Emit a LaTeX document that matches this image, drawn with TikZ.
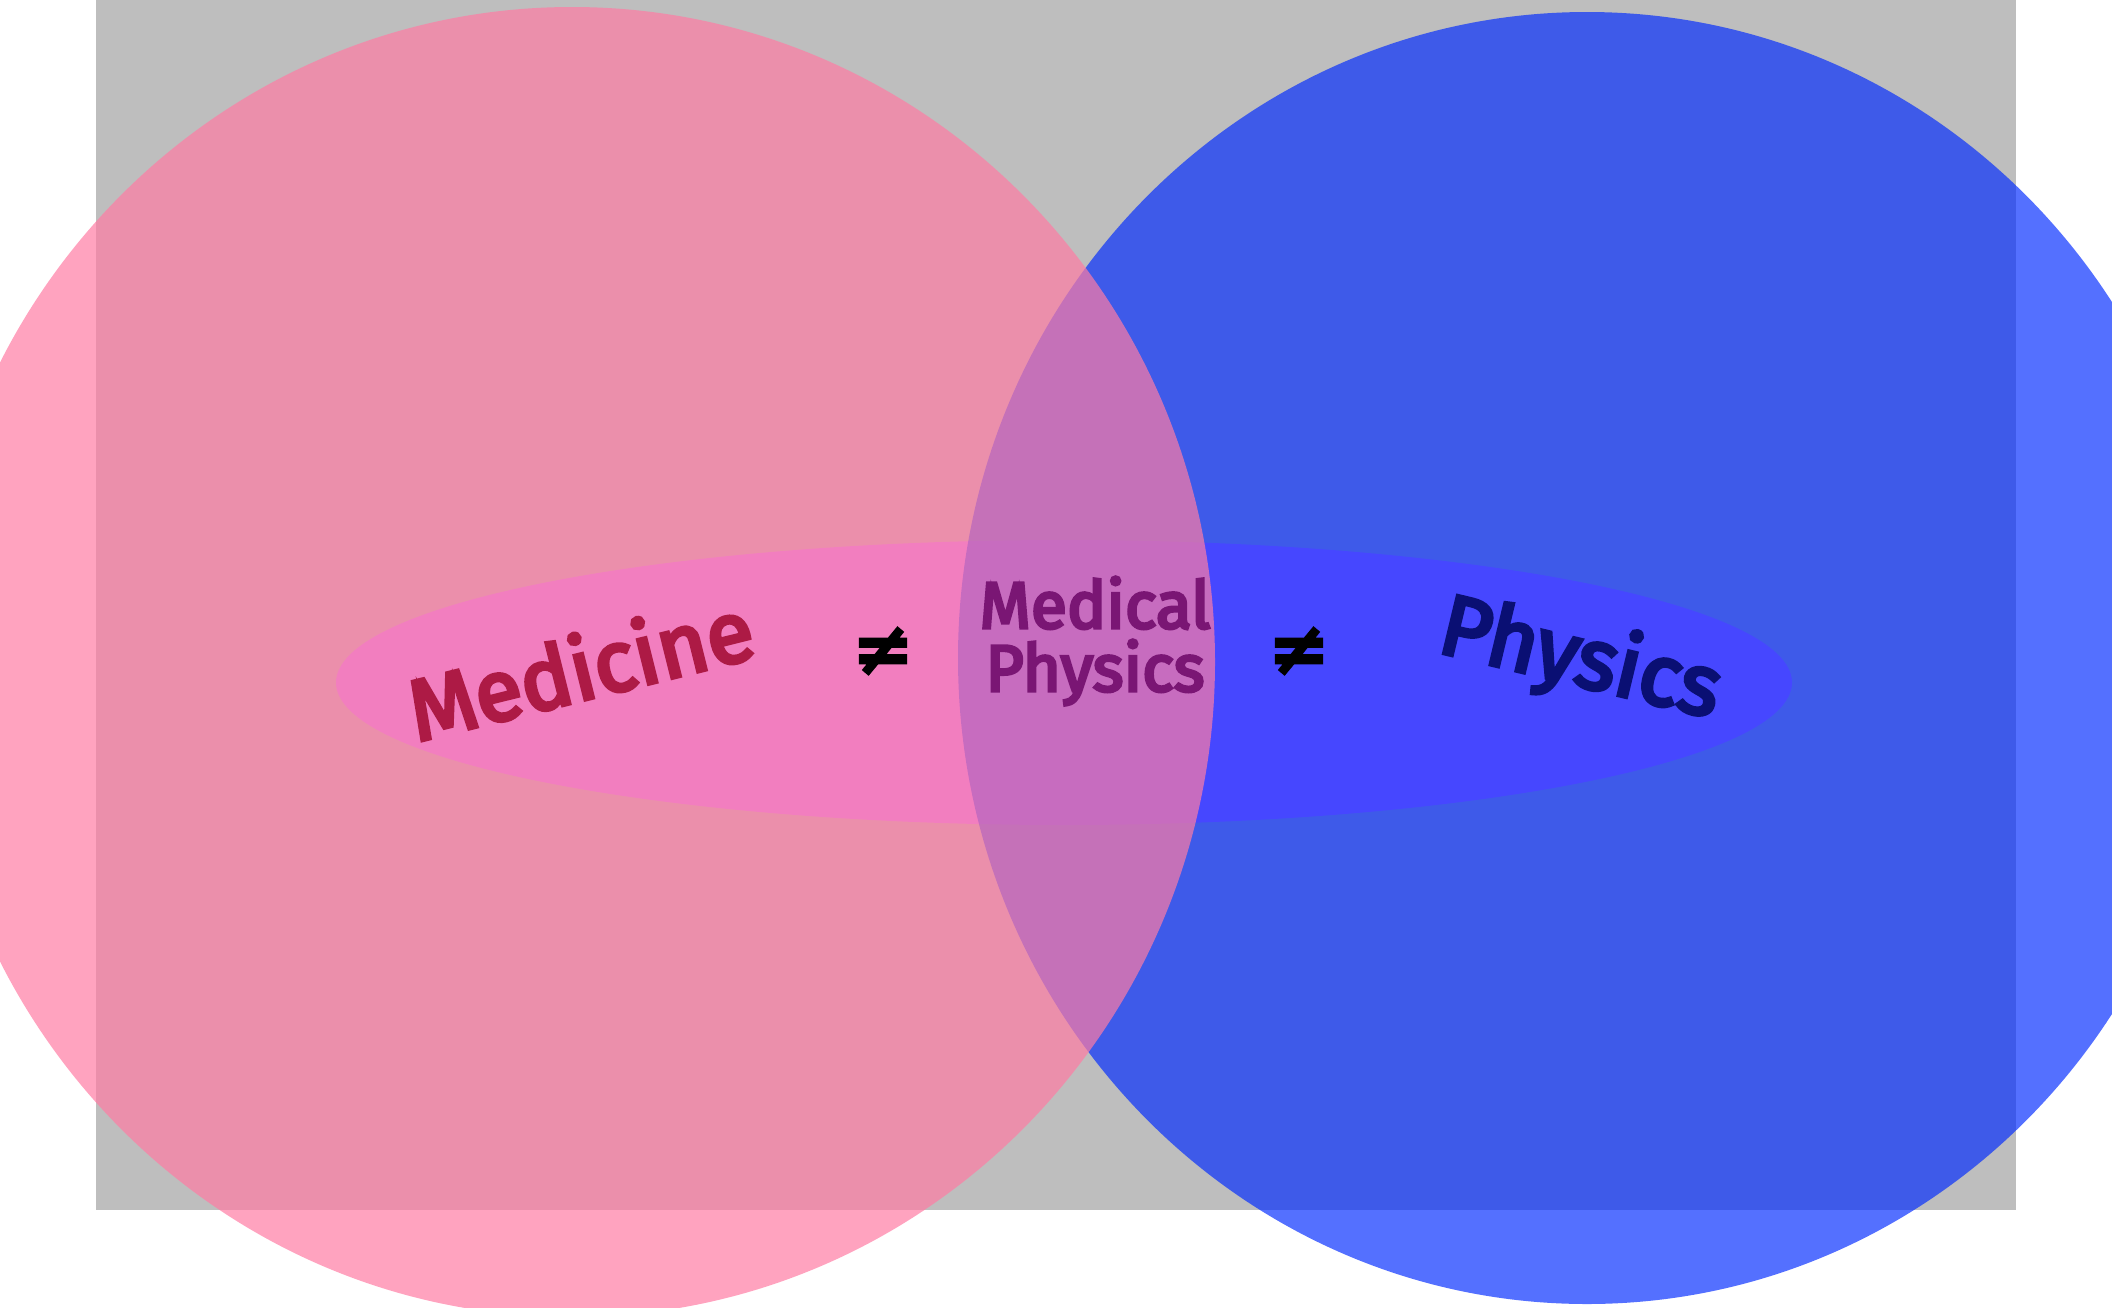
\documentclass[tikz,border=0pt]{standalone}
\usepackage{fontspec}
\setmainfont{Fira Sans}[FakeBold=4.5]
\newfontfamily\symfont{DejaVu Sans}[BoldFeatures={FakeBold=2.5}]
\definecolor{graybg}{RGB}{190,190,190}
\definecolor{ellcol}{RGB}{214,132,255}
\definecolor{bluecol}{RGB}{0,42,255}
\definecolor{pinkcol}{RGB}{255,124,164}
\definecolor{medcol}{RGB}{173,26,69}
\definecolor{phycol}{RGB}{10,15,115}
\definecolor{mpcol}{RGB}{122,22,116}
\tikzset{
  bigword/.style={font=\fontsize{86}{86}\selectfont, inner sep=0pt},
  midword/.style={font=\fontsize{66}{63}\selectfont, inner sep=0pt, align=center, text=mpcol},
  neq/.style={font=\symfont\bfseries\fontsize{74}{74}\selectfont, inner sep=0pt, text=black}
}
\begin{document}
\begin{tikzpicture}[x=1pt,y=-1pt]
\useasboundingbox (0,0) rectangle (2112,1307);
\clip (0,0) rectangle (2112,1307);
\fill[white] (0,0) rectangle (2112,1307);
\fill[graybg] (95.6,0) rectangle (2016,1210);
\fill[ellcol] (1064,682.5) ellipse [x radius=728, y radius=142.5];
\fill[bluecol, opacity=0.67] (1587,658) ellipse [x radius=629, y radius=646];
\fill[pinkcol, opacity=0.7] (572,662) ellipse [x radius=643, y radius=655];
\node[bigword, text=medcol, rotate=14] (medicine) at (580,667) {Medicine};
\node[bigword, text=phycol, rotate=-13.5] (physics) at (1580,661) {Physics};
\node[midword] (medphys) at (1095,641) {Medical\\Physics};
\node[neq] (neqa) at (883,651) {≠};
\node[neq] (neqb) at (1299,651) {≠};
\end{tikzpicture}
\end{document}
